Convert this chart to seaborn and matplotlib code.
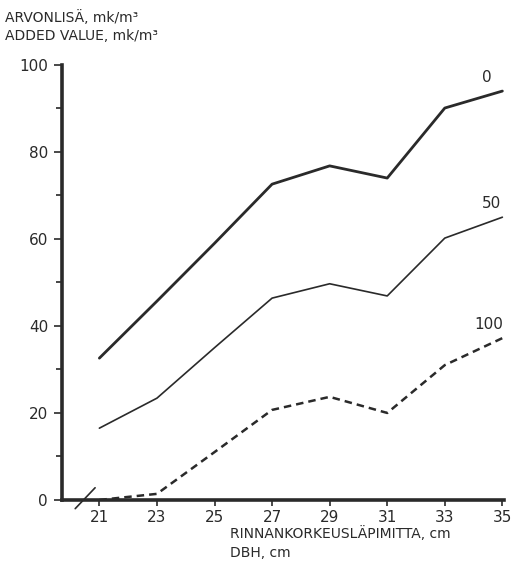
import numpy as np
import pandas as pd
import matplotlib
matplotlib.use("Agg")
import matplotlib.pyplot as plt
import seaborn as sns

# rinnankorkeusläpimitta (DBH), cm
dbh = [21, 23, 25, 27, 29, 31, 33, 35]
# arvonlisä, mk/m3 -- kolme käyrää
value_0 = [32.6, 45.7, 59.0, 72.6, 76.8, 74.0, 90.1, 94.0]
value_50 = [16.5, 23.4, 35.0, 46.4, 49.7, 46.9, 60.2, 65.0]
value_100 = [0.0, 1.4, 11.0, 20.7, 23.7, 20.0, 31.0, 37.2]
curve_names = ["0", "50", "100"]

y_ticks = [0, 20, 40, 60, 80, 100]

sns.set_style("ticks")
plt.rcParams["font.family"] = ["DejaVu Sans"]

df = pd.DataFrame({
    "dbh": dbh * 3,
    "value": value_0 + value_50 + value_100,
    "curve": [curve_names[0]] * 8 + [curve_names[1]] * 8 + [curve_names[2]] * 8,
})

fig = plt.figure(figsize=(5.12, 5.63), dpi=100)
ax = fig.add_axes([0.121, 0.112, 0.863, 0.7726])

ink = "#2a2a2a"
sns.lineplot(data=df, x="dbh", y="value", hue="curve", style="curve",
             palette={"0": ink, "50": ink, "100": ink},
             dashes={"0": "", "50": "", "100": (3, 2)},
             size="curve", sizes={"0": 2.0, "50": 1.2, "100": 1.8},
             legend=False, ax=ax)

# käyrien nimet viimeisen pisteen yläpuolelle
offsets = [(-11, 10), (-8, 10), (-10, 9.5)]
for name, vals, (dx, dy) in zip(curve_names, [value_0, value_50, value_100], offsets):
    ax.annotate(name, (dbh[-1], vals[-1]), xytext=(dx, dy), textcoords="offset points",
                ha="center", va="center", fontsize=11, color=ink)

ax.set_xlim(19.7, 35.05)
ax.set_ylim(0, 100)
ax.set_xticks(dbh)
ax.set_yticks(y_ticks)
ax.set_yticks(np.arange(10, 100, 20), minor=True)
ax.tick_params(axis="both", colors=ink, labelsize=11, width=1.2)
ax.tick_params(axis="y", which="major", length=6, pad=4)
ax.tick_params(axis="y", which="minor", length=4, width=1.2)
ax.tick_params(axis="x", length=4, pad=3)
ax.set_xlabel("")
ax.set_ylabel("")

sns.despine(ax=ax)
for side in ["left", "bottom"]:
    ax.spines[side].set_linewidth(2.6)
    ax.spines[side].set_color(ink)

# akselin katkoviiva
ax.plot([0.03, 0.075], [-0.02, 0.028], transform=ax.transAxes, color=ink,
        lw=1.2, clip_on=False)

fig.text(0.01, 0.968, "ARVONLISÄ, mk/m³", fontsize=10, color=ink, va="center")
fig.text(0.01, 0.936, "ADDED VALUE, mk/m³", fontsize=10, color=ink, va="center")
fig.text(0.449, 0.053, "RINNANKORKEUSLÄPIMITTA, cm", fontsize=10, color=ink, va="center")
fig.text(0.449, 0.018, "DBH, cm", fontsize=10, color=ink, va="center")

plt.savefig("out.png", dpi=100)
plt.close()
